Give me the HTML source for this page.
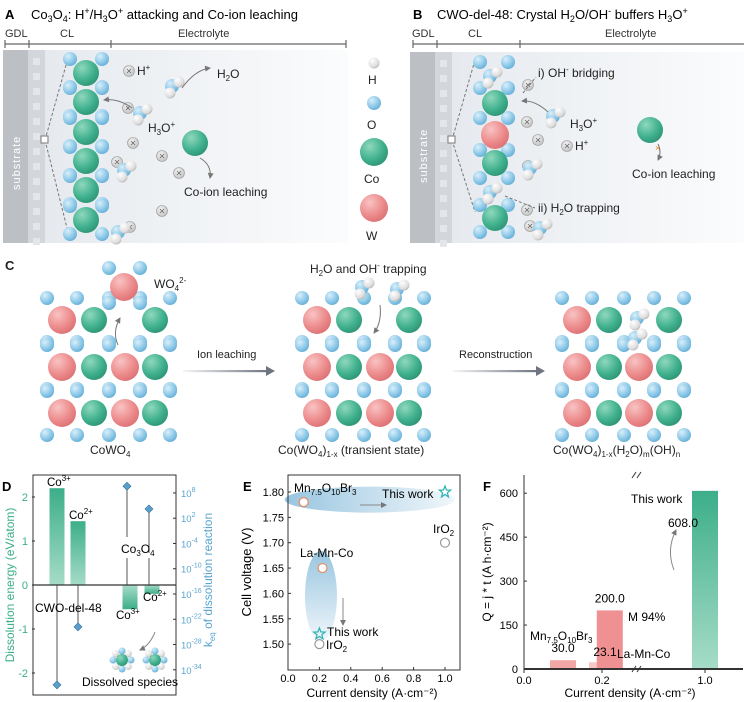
<!DOCTYPE html>
<html><head><meta charset="utf-8"><style>
body{margin:0;background:#fff}
svg{display:block;font-family:"Liberation Sans",sans-serif}
text{font-family:"Liberation Sans",sans-serif}
</style></head><body>
<svg id="fig" width="744" height="702" viewBox="0 0 744 702" xmlns="http://www.w3.org/2000/svg">
<defs>
<radialGradient id="gCo" cx="0.35" cy="0.3" r="0.8"><stop offset="0" stop-color="#8fd8bd"/><stop offset="0.6" stop-color="#3fb08d"/><stop offset="1" stop-color="#2b8f70"/></radialGradient>
<radialGradient id="gW" cx="0.35" cy="0.3" r="0.8"><stop offset="0" stop-color="#f9c3c3"/><stop offset="0.6" stop-color="#ec8a8b"/><stop offset="1" stop-color="#d96d70"/></radialGradient>
<radialGradient id="gO" cx="0.35" cy="0.3" r="0.8"><stop offset="0" stop-color="#d9effa"/><stop offset="0.6" stop-color="#8cc8e8"/><stop offset="1" stop-color="#5ea9d2"/></radialGradient>
<radialGradient id="gH" cx="0.35" cy="0.3" r="0.8"><stop offset="0" stop-color="#ffffff"/><stop offset="0.7" stop-color="#dcdcdc"/><stop offset="1" stop-color="#a9a9a9"/></radialGradient>
<radialGradient id="gI" cx="0.4" cy="0.35" r="0.8"><stop offset="0" stop-color="#f4f4f4"/><stop offset="1" stop-color="#b8b8b8"/></radialGradient>
<linearGradient id="bgA" x1="0" x2="1"><stop offset="0" stop-color="#e3e7ec"/><stop offset="1" stop-color="#fbfcfd"/></linearGradient>
<linearGradient id="gBar" x1="0" y1="0" x2="0" y2="1"><stop offset="0" stop-color="#3cae89"/><stop offset="1" stop-color="#a6dcc8"/></linearGradient>
<linearGradient id="gBarN" x1="0" y1="0" x2="0" y2="1"><stop offset="0" stop-color="#a6dcc8"/><stop offset="1" stop-color="#3cae89"/></linearGradient>
<linearGradient id="gEll" x1="0" x2="1"><stop offset="0" stop-color="#8dbfdc"/><stop offset="1" stop-color="#eef5fa"/></linearGradient>
<linearGradient id="gEll2" x1="0" y1="0" x2="0" y2="1"><stop offset="0" stop-color="#8dbfdc"/><stop offset="1" stop-color="#eef5fa"/></linearGradient>
<linearGradient id="gArr" x1="0" x2="1"><stop offset="0" stop-color="#f4f5f7"/><stop offset="1" stop-color="#6f7480"/></linearGradient>
<marker id="ah" markerUnits="userSpaceOnUse" markerWidth="9" markerHeight="8" refX="8" refY="4" orient="auto"><path d="M0,0 L9,4 L0,8 z" fill="#6f7480"/></marker>
<marker id="ah2" markerUnits="userSpaceOnUse" markerWidth="6" markerHeight="6" refX="5" refY="3" orient="auto"><path d="M0,0 L6,3 L0,6 z" fill="#777"/></marker>
</defs>

<g>
<text x="5" y="19" font-size="13" font-weight="bold">A</text>
<text x="31" y="19" font-size="13">Co<tspan font-size="9" dy="3">3</tspan><tspan dy="-3">O</tspan><tspan font-size="9" dy="3">4</tspan><tspan dy="-3">: H</tspan><tspan font-size="9" dy="-5">+</tspan><tspan dy="5">/H</tspan><tspan font-size="9" dy="3">3</tspan><tspan dy="-3">O</tspan><tspan font-size="9" dy="-5">+</tspan><tspan dy="5"> attacking and Co-ion leaching</tspan></text>
<text x="5" y="37" font-size="11" fill="#333">GDL</text><text x="60" y="37" font-size="11" fill="#333">CL</text><text x="178" y="37" font-size="11" fill="#333">Electrolyte</text>
<path d="M5,44H346 M5,40V48 M29,40V48 M111,40V48 M346,40V48" stroke="#666" stroke-width="1.2" fill="none"/>
<rect x="3" y="50" width="345" height="193" fill="url(#bgA)"/>
<rect x="3" y="50" width="25" height="193" fill="#bcc0c5"/>
<rect x="28" y="50" width="17" height="193" fill="#d3d7dc"/>
<text transform="translate(20,190) rotate(-90)" font-size="11" fill="#fff" letter-spacing="1">substrate</text>
</g>

<g>
<text x="413" y="19" font-size="13" font-weight="bold">B</text>
<text x="437" y="19" font-size="13">CWO-del-48: Crystal H<tspan font-size="9" dy="3">2</tspan><tspan dy="-3">O/OH</tspan><tspan font-size="9" dy="-5">-</tspan><tspan dy="5"> buffers H</tspan><tspan font-size="9" dy="3">3</tspan><tspan dy="-3">O</tspan><tspan font-size="9" dy="-5">+</tspan></text>
<text x="412" y="37" font-size="11" fill="#333">GDL</text><text x="468" y="37" font-size="11" fill="#333">CL</text><text x="605" y="37" font-size="11" fill="#333">Electrolyte</text>
<path d="M413,44H744 M413,40V48 M437,40V48 M520,40V48" stroke="#666" stroke-width="1.2" fill="none"/>
<rect x="410" y="52" width="334" height="191" fill="url(#bgA)"/>
<rect x="410" y="52" width="25" height="191" fill="#bcc0c5"/>
<rect x="435" y="52" width="17" height="191" fill="#d3d7dc"/>
<text transform="translate(427,183) rotate(-90)" font-size="11" fill="#fff" letter-spacing="1">substrate</text>
</g>

<g id="atoms"></g>

<g font-size="12" fill="#222">
<text x="137" y="75">H<tspan font-size="8" dy="-5">+</tspan></text>
<text x="217" y="78">H<tspan font-size="8" dy="3">2</tspan><tspan dy="-3">O</tspan></text>
<text x="148" y="132">H<tspan font-size="8" dy="3">3</tspan><tspan dy="-3">O</tspan><tspan font-size="8" dy="-5">+</tspan></text>
<text x="184" y="196">Co-ion leaching</text>
<text x="538" y="77">i) OH<tspan font-size="8" dy="-5">-</tspan><tspan dy="5"> bridging</tspan></text>
<text x="538" y="212">ii) H<tspan font-size="8" dy="3">2</tspan><tspan dy="-3">O trapping</tspan></text>
<text x="570" y="128">H<tspan font-size="8" dy="3">3</tspan><tspan dy="-3">O</tspan><tspan font-size="8" dy="-5">+</tspan></text>
<text x="575" y="150">H<tspan font-size="8" dy="-5">+</tspan></text>
<text x="632" y="178">Co-ion leaching</text>
<text x="368" y="84">H</text><text x="367" y="129">O</text><text x="364" y="183">Co</text><text x="366" y="240">W</text>
</g>

<g font-size="12" fill="#222">
<text x="5" y="270" font-size="13" font-weight="bold">C</text>
<text x="154" y="288">WO<tspan font-size="8" dy="3">4</tspan><tspan font-size="8" dy="-8">2-</tspan></text>
<text x="310" y="273">H<tspan font-size="8" dy="3">2</tspan><tspan dy="-3">O and OH</tspan><tspan font-size="8" dy="-5">-</tspan><tspan dy="5"> trapping</tspan></text>
<text x="197" y="358" font-size="11">Ion leaching</text>
<text x="459" y="358" font-size="11">Reconstruction</text>
<text x="90" y="454">CoWO<tspan font-size="8" dy="3">4</tspan></text>
<text x="278" y="454">Co(WO<tspan font-size="8" dy="3">4</tspan><tspan dy="-3">)</tspan><tspan font-size="8" dy="3">1-x</tspan><tspan dy="-3"> (transient state)</tspan></text>
<text x="553" y="454">Co(WO<tspan font-size="8" dy="3">4</tspan><tspan dy="-3">)</tspan><tspan font-size="8" dy="3">1-x</tspan><tspan dy="-3">(H</tspan><tspan font-size="8" dy="3">2</tspan><tspan dy="-3">O)</tspan><tspan font-size="8" dy="3">m</tspan><tspan dy="-3">(OH)</tspan><tspan font-size="8" dy="3">n</tspan></text>
</g>
<g><rect x="183" y="370" width="84" height="2.2" fill="url(#gArr)"/><path d="M266,366L275,371L266,376z" fill="#6f7480"/></g>
<g><rect x="453" y="370" width="84" height="2.2" fill="url(#gArr)"/><path d="M536,366L545,371L536,376z" fill="#6f7480"/></g>

<g id="panelD"></g>
<g id="panelE"></g>
<g id="panelF"></g>
</svg>
<script>
const NS="http://www.w3.org/2000/svg";
function el(parent,tag,attrs,txt){const e=document.createElementNS(NS,tag);for(const k in attrs)e.setAttribute(k,attrs[k]);if(txt!==undefined)e.textContent=txt;parent.appendChild(e);return e;}
const A=document.getElementById('atoms');
function atom(x,y,t){const r={Co:13,W:14,O:7,H:5.5}[t];const c=el(A,'circle',{cx:x,cy:y,r:r,fill:'url(#g'+t+')'});

return c;}
function ion(x,y){const g=el(A,'g',{});


el(g,'circle',{cx:x,cy:y,r:5.5,fill:'url(#gI)',stroke:'#999','stroke-width':0.6});el(g,'path',{d:`M${x-2},${y-2}L${x+2},${y+2}M${x+2},${y-2}L${x-2},${y+2}`,stroke:'#666','stroke-width':0.8});}
function water(x,y){atom(x,y,'O');atom(x+7,y-4,'H');atom(x-2,y+7,'H');}
for(let y=58;y<240;y+=15){el(A,'rect',{x:33,y:y,width:7,height:7,fill:'#e4e7ea'});el(A,'rect',{x:440,y:y+2,width:7,height:7,fill:'#e4e7ea'});}
el(A,'path',{d:'M45,140L68,58M45,140L68,232M452,140L475,60M452,140L475,212',stroke:'#777','stroke-dasharray':'3,2',fill:'none'});
el(A,'rect',{x:41,y:136,width:7,height:7,fill:'#fff',stroke:'#777'});el(A,'rect',{x:448,y:136,width:7,height:7,fill:'#fff',stroke:'#777'});
const coA=[73,102,132,161,190,220];
coA.forEach(y=>{atom(70,y-14,'O');atom(102,y-14,'O');atom(70,y+14,'O');atom(102,y+14,'O');});
coA.forEach(y=>atom(86,y,'Co'));
[[129,71],[128,108],[133,143],[162,156],[179,173],[162,211],[117,162],[130,227]].forEach(p=>ion(p[0],p[1]));
water(172,86);water(140,113);water(124,170);water(118,232);
atom(195,143,'Co');
el(A,'path',{d:'M182,88 Q195,70 210,68',stroke:'#777',fill:'none','marker-end':'url(#ah2)'});
el(A,'path',{d:'M132,108 Q118,98 104,100',stroke:'#777',fill:'none','marker-end':'url(#ah2)'});
el(A,'path',{d:'M200,158 Q212,165 210,178',stroke:'#777',fill:'none','marker-end':'url(#ah2)'});
[[480,62],[508,62],[480,88],[508,88],[480,118],[508,118],[480,150],[508,150],[480,178],[508,178],[480,205],[508,205],[480,232],[508,232]].forEach(p=>atom(p[0],p[1],'O'));
atom(495,103,'Co');atom(495,135,'W');atom(495,163,'Co');atom(495,218,'Co');
water(490,76);water(490,192);
[[528,85],[527,122],[538,140],[567,146],[528,166],[527,210],[530,226]].forEach(p=>ion(p[0],p[1]));
water(553,116);water(530,168);water(540,228);
atom(650,130,'Co');
el(A,'path',{d:'M523,93 L536,77 M505,196 L535,208',stroke:'#777','stroke-dasharray':'3,2',fill:'none'});
el(A,'path',{d:'M548,112 Q535,100 522,101',stroke:'#777',fill:'none','marker-end':'url(#ah2)'});
el(A,'path',{d:'M658,144 Q662,152 658,160',stroke:'#777',fill:'none','marker-end':'url(#ah2)'});
el(A,'text',{x:655,y:151,'font-size':9,fill:'#e08a2a'},'×');
atom(374,63,'H');atom(374,103,'O');
el(A,'circle',{cx:374,cy:152,r:14,fill:'url(#gCo)'});el(A,'circle',{cx:374,cy:208,r:14,fill:'url(#gW)'});
function lattice(cols,rows,row1){
  const xs=[cols[0]-15,cols[0]+15,cols[1]+15,cols[2]+15,cols[3]+15];
  rows.forEach((ry,ri)=>{xs.forEach(x=>{atom(x,ry-22,'O');atom(x,ry+22,'O');});});
  rows.forEach((ry,ri)=>{const pat=ri===0?row1:['W','Co','W','Co'];
    pat.forEach((t,ci)=>{if(t)atom(cols[ci],ry,t);});});
}
lattice([62,94,125,155],[320,367,413],['W','Co',null,'Co']);
atom(109,268,'O');atom(140,268,'O');atom(109,303,'O');atom(140,303,'O');atom(124,287,'W');
el(A,'path',{d:'M118,345 Q112,332 120,318',stroke:'#777',fill:'none','marker-end':'url(#ah2)'});
lattice([317,349,380,409],[320,367,413],['W','Co',null,'Co']);
water(362,287);water(397,289);
el(A,'path',{d:'M380,305 Q382,322 374,333',stroke:'#777',fill:'none','marker-end':'url(#ah2)'});
lattice([577,609,639,669],[320,367,413],['W','Co',null,'Co']);
water(637,318);water(635,338);

const D=document.getElementById('panelD');
const dLabels=['Co3+ CWO','Co2+ CWO','Co3+ Co3O4','Co2+ Co3O4'];
const dEnergy=[2.2,1.45,-0.55,-0.2];
const dLogK=[-37.6,-23.8,9.6,4.2];
const dLeftTicks=[2,1,0,-1,-2];
const dRightTicks=[8,2,-4,-10,-16,-22,-28,-34];
const yE=v=>585-v*44;
const yK=e=>594-(e+16)*4.21;
const dBarX=[57,78,130,152];
el(D,'text',{x:2,y:491,'font-size':13,'font-weight':'bold'},'D');
dLeftTicks.forEach(t=>{const tx=el(D,'text',{x:28,y:yE(t)+4,'font-size':11,fill:'#3cae89','text-anchor':'end'},t);


el(D,'line',{x1:32,x2:35,y1:yE(t),y2:yE(t),stroke:'#333'});});
dRightTicks.forEach(t=>{const g=el(D,'text',{x:181,y:yK(t)+4,'font-size':9.5,fill:'#5aa6cf'});el(g,'tspan',{},'10');el(g,'tspan',{'font-size':7,dy:-5},t);


el(D,'line',{x1:173,x2:176,y1:yK(t),y2:yK(t),stroke:'#333'});});
dEnergy.forEach((v,i)=>{const y0=yE(0),y1=yE(v);const r=el(D,'rect',{x:dBarX[i]-7.5,y:Math.min(y0,y1),width:15,height:Math.abs(y1-y0),fill:v>0?'url(#gBar)':'url(#gBarN)'});

});
dLogK.forEach((e,i)=>{const x=dBarX[i]-(i<2?0:3);const y=yK(e);
if(i<2){el(D,'line',{x1:x,x2:x,y1:585,y2:y,stroke:'#555'});}else{el(D,'line',{x1:x,x2:x,y1:y,y2:i==2?537:553,stroke:'#555'});el(D,'line',{x1:x,x2:x,y1:558,y2:585,stroke:'#555'});}
const c=el(D,'path',{d:`M${x},${y-4}L${x+4},${y}L${x},${y+4}L${x-4},${y}z`,fill:'#5a9fcc',stroke:'#356f99','stroke-width':0.6});

});
el(D,'rect',{x:33,y:475,width:143,height:220,fill:'none',stroke:'#333','stroke-width':1});
el(D,'line',{x1:33,x2:176,y1:585,y2:585,stroke:'#333','stroke-width':1.2});
const dt=[[47,486,'Co','3+'],[69,519,'Co','2+'],[143,601,'Co','2+'],[116,619,'Co','3+']];
dt.forEach(a=>{const t=el(D,'text',{x:a[0],y:a[1],'font-size':11.5});el(t,'tspan',{},a[2]);el(t,'tspan',{'font-size':8,dy:-5},a[3]);});
const co3o4=el(D,'text',{x:121,y:553,'font-size':12});el(co3o4,'tspan',{},'Co');el(co3o4,'tspan',{'font-size':8,dy:3},'3');el(co3o4,'tspan',{dy:-3},'O');el(co3o4,'tspan',{'font-size':8,dy:3},'4');
el(D,'text',{x:35,y:612,'font-size':12},'CWO-del-48');
el(D,'text',{x:82,y:686,'font-size':12},'Dissolved species');
el(D,'path',{d:'M155,632 Q150,645 140,650',stroke:'#888',fill:'none','marker-end':'url(#ah2)'});
[[122,660],[155,660]].forEach(p=>{for(let k=0;k<8;k++){const a=k*Math.PI/4;el(D,'circle',{cx:p[0]+9*Math.cos(a),cy:p[1]+9*Math.sin(a),r:3.5,fill:k%2?'url(#gH)':'url(#gO)'});}el(D,'circle',{cx:p[0],cy:p[1],r:6,fill:'url(#gCo)'});});
el(D,'text',{transform:'translate(14,585) rotate(-90)','font-size':12,fill:'#3cae89','text-anchor':'middle'},'Dissolution energy (eV/atom)');
const kl=el(D,'text',{transform:'translate(212,580) rotate(-90)','font-size':12,fill:'#5aa6cf','text-anchor':'middle'});el(kl,'tspan',{},'k');el(kl,'tspan',{'font-size':8,dy:3},'eq');el(kl,'tspan',{dy:-3},' of dissolution reaction');

const E=document.getElementById('panelE');
const eXTicks=[0,0.2,0.4,0.6,0.8,1.0];
const eYTicks=[1.80,1.75,1.70,1.65,1.60,1.55,1.50];
const eX=[0.1,1.0,1.0,0.22,0.2,0.2];
const eY=[1.78,1.80,1.70,1.65,1.52,1.50];
const eKind=['orange','star','gray','orange','star','gray'];
const ex=v=>288+v*157, ey=v=>492-(v-1.80)*507;
el(E,'text',{x:243,y:491,'font-size':13,'font-weight':'bold'},'E');
el(E,'ellipse',{cx:ex(0.52),cy:ey(1.785),rx:85,ry:13,fill:'url(#gEll)',opacity:0.9});
el(E,'ellipse',{cx:ex(0.21),cy:ey(1.595),rx:16,ry:45,fill:'url(#gEll2)',opacity:0.9});
el(E,'rect',{x:288,y:475,width:172,height:195,fill:'none',stroke:'#333'});
eXTicks.forEach(t=>{el(E,'line',{x1:ex(t),x2:ex(t),y1:670,y2:667,stroke:'#333'});const tx=el(E,'text',{x:ex(t),y:682,'font-size':11,'text-anchor':'middle'},t.toFixed(1));

});
eYTicks.forEach(t=>{el(E,'line',{x1:288,x2:291,y1:ey(t),y2:ey(t),stroke:'#333'});const tx=el(E,'text',{x:284,y:ey(t)+4,'font-size':11,'text-anchor':'end'},t.toFixed(2));

});
eX.forEach((v,i)=>{const x=ex(v),y=ey(eY[i]);let m;
if(eKind[i]=='star'){let d='';for(let k=0;k<10;k++){const r=k%2?2.5:6,a=-Math.PI/2+k*Math.PI/5;d+=(k?'L':'M')+(x+r*Math.cos(a)).toFixed(1)+','+(y+r*Math.sin(a)).toFixed(1);}m=el(E,'path',{d:d+'z',fill:'none',stroke:'#2bb3b3','stroke-width':1.2});}
else m=el(E,'circle',{cx:x,cy:y,r:4.5,fill:'#fff',stroke:eKind[i]=='orange'?'#e88b63':'#999','stroke-width':1.2});

});
el(E,'path',{d:'M360,505H386',stroke:'#888',fill:'none','marker-end':'url(#ah2)'});
el(E,'path',{d:'M343,598V625',stroke:'#888',fill:'none','marker-end':'url(#ah2)'});
const mn=el(E,'text',{x:294,y:492,'font-size':12});el(mn,'tspan',{},'Mn');el(mn,'tspan',{'font-size':8,dy:3},'7.5');el(mn,'tspan',{dy:-3},'O');el(mn,'tspan',{'font-size':8,dy:3},'10');el(mn,'tspan',{dy:-3},'Br');el(mn,'tspan',{'font-size':8,dy:3},'3');
el(E,'text',{x:382,y:498,'font-size':12},'This work');
const ir1=el(E,'text',{x:433,y:533,'font-size':12});el(ir1,'tspan',{},'IrO');el(ir1,'tspan',{'font-size':8,dy:3},'2');
el(E,'text',{x:300,y:557,'font-size':12},'La-Mn-Co');
el(E,'text',{x:327,y:636,'font-size':12},'This work');
const ir2=el(E,'text',{x:326,y:649,'font-size':12});el(ir2,'tspan',{},'IrO');el(ir2,'tspan',{'font-size':8,dy:3},'2');
el(E,'text',{x:372,y:697,'font-size':12,'text-anchor':'middle'},'Current density (A·cm⁻²)');
el(E,'text',{transform:'translate(251,572) rotate(-90)','font-size':13,'text-anchor':'middle'},'Cell voltage (V)');

const F=document.getElementById('panelF');
const fX=[0.1,0.2,0.22,1.0];
const fQ=[30.0,23.1,200.0,608.0];
const fColor=['#f2a7a7','#f5b8b8','#ef9092','url(#gBar)'];
const fYTicks=[0,150,300,450,600];
const fXTicks=[0,0.2,1.0];
const fx=v=>v<=0.3?524+v*390:705+(v-1.0)*390;
const fy=v=>669-v*0.293;
el(F,'text',{x:483,y:491,'font-size':13,'font-weight':'bold'},'F');
fQ.forEach((v,i)=>{const r=el(F,'rect',{x:fx(fX[i])-13,y:fy(v),width:26,height:669-fy(v),fill:fColor[i],opacity:i==1?0.8:1});

});
el(F,'path',{d:'M524,475V669H743',stroke:'#333',fill:'none'});
el(F,'line',{x1:524,x2:743,y1:669,y2:669,stroke:'#333','stroke-width':2});
el(F,'path',{d:'M632,672L636,666M637,672L641,666',stroke:'#333'});
el(F,'path',{d:'M632,478L636,472M637,478L641,472',stroke:'#333'});
fYTicks.forEach(t=>{el(F,'line',{x1:524,x2:527,y1:fy(t),y2:fy(t),stroke:'#333'});const tx=el(F,'text',{x:518,y:fy(t)+4,'font-size':11,'text-anchor':'end'},t);

});
fXTicks.forEach(t=>{el(F,'line',{x1:fx(t),x2:fx(t),y1:669,y2:673,stroke:'#333'});const tx=el(F,'text',{x:fx(t),y:684,'font-size':11,'text-anchor':'middle'},t.toFixed(1));

});
const fVal=[[fx(0.1),fy(30)-8],[fx(0.2)+3,fy(23.1)-6],[fx(0.22),fy(200)-8],[fx(1.0)-22,fy(608)+36]];
fQ.forEach((v,i)=>{el(F,'text',{x:fVal[i][0],y:fVal[i][1],'font-size':12,'text-anchor':'middle'},v.toFixed(1));});
const fm=el(F,'text',{x:530,y:640,'font-size':12});el(fm,'tspan',{},'Mn');el(fm,'tspan',{'font-size':8,dy:3},'7.5');el(fm,'tspan',{dy:-3},'O');el(fm,'tspan',{'font-size':8,dy:3},'10');el(fm,'tspan',{dy:-3},'Br');el(fm,'tspan',{'font-size':8,dy:3},'3');
el(F,'text',{x:617,y:658,'font-size':12},'La-Mn-Co');
el(F,'text',{x:628,y:621,'font-size':12},'M 94%');
el(F,'text',{x:631,y:503,'font-size':12},'This work');
el(F,'path',{d:'M674,570 Q666,550 676,530',stroke:'#888',fill:'none','marker-end':'url(#ah2)'});
el(F,'text',{x:630,y:697,'font-size':12,'text-anchor':'middle'},'Current density (A·cm⁻²)');
el(F,'text',{transform:'translate(491,572) rotate(-90)','font-size':12,'text-anchor':'middle'},'Q = j * t (A h·cm⁻²)');
</script>
</body></html>
